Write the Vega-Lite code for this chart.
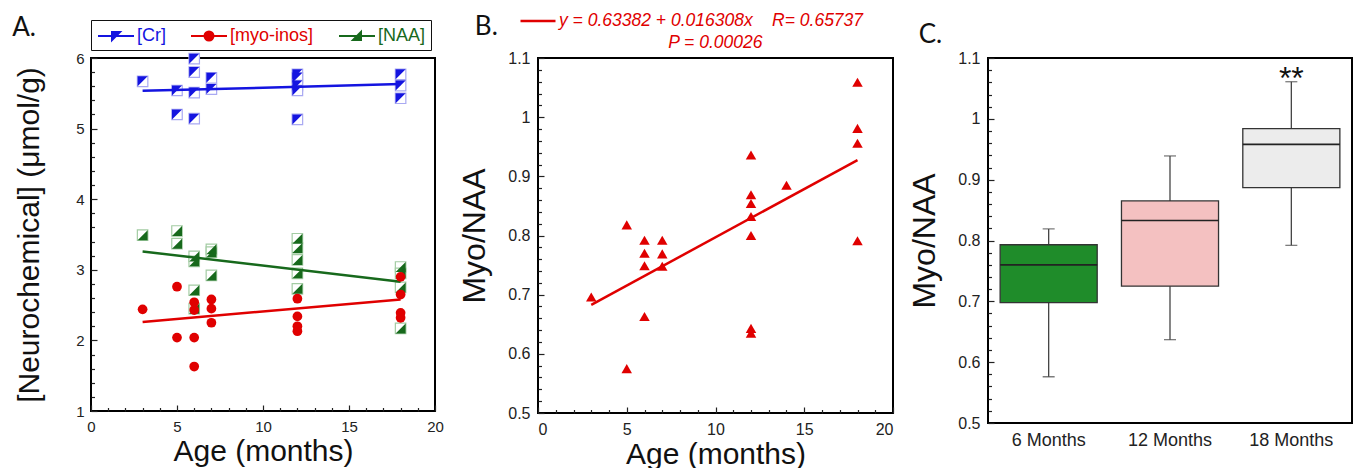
{
  "$schema": "https://vega.github.io/schema/vega-lite/v6.json",
  "background": "white",
  "padding": {"left": 11, "top": 1, "right": 5, "bottom": 0},
  "config": {
    "font": "Liberation Sans",
    "view": {"stroke": "#000", "strokeWidth": 2},
    "axis": {"domain": false, "grid": false, "labelFont": "Liberation Sans", "labelColor": "#222", "titleFont": "Liberation Sans", "titleFontWeight": "normal", "titleColor": "#111", "tickColor": "#222", "tickWidth": 1.2, "labelFlush": false, "labelOverlap": false},
    "title": {"font": "Lato", "fontSize": 26, "fontWeight": "normal", "orient": "left", "anchor": "end", "angle": 0, "align": "left", "baseline": "top", "frame": "group", "color": "#111", "offset": 0}
  },
  "datasets": {
    "ptsA": [
      {"series": "Cr", "age": 3, "value": 5.67}, {"series": "Cr", "age": 5, "value": 5.54}, {"series": "Cr", "age": 5, "value": 5.2},
      {"series": "Cr", "age": 6, "value": 5.99}, {"series": "Cr", "age": 6, "value": 5.8}, {"series": "Cr", "age": 6, "value": 5.51}, {"series": "Cr", "age": 6, "value": 5.14},
      {"series": "Cr", "age": 7, "value": 5.72}, {"series": "Cr", "age": 7, "value": 5.56},
      {"series": "Cr", "age": 12, "value": 5.77}, {"series": "Cr", "age": 12, "value": 5.72}, {"series": "Cr", "age": 12, "value": 5.61}, {"series": "Cr", "age": 12, "value": 5.54}, {"series": "Cr", "age": 12, "value": 5.13},
      {"series": "Cr", "age": 18, "value": 5.77}, {"series": "Cr", "age": 18, "value": 5.61}, {"series": "Cr", "age": 18, "value": 5.43},
      {"series": "NAA", "age": 3, "value": 3.49}, {"series": "NAA", "age": 5, "value": 3.55}, {"series": "NAA", "age": 5, "value": 3.37},
      {"series": "NAA", "age": 6, "value": 3.19}, {"series": "NAA", "age": 6, "value": 3.12}, {"series": "NAA", "age": 6, "value": 2.71}, {"series": "NAA", "age": 6, "value": 2.45},
      {"series": "NAA", "age": 7, "value": 3.29}, {"series": "NAA", "age": 7, "value": 3.25}, {"series": "NAA", "age": 7, "value": 2.92},
      {"series": "NAA", "age": 12, "value": 3.44}, {"series": "NAA", "age": 12, "value": 3.31}, {"series": "NAA", "age": 12, "value": 3.14}, {"series": "NAA", "age": 12, "value": 2.95}, {"series": "NAA", "age": 12, "value": 2.73},
      {"series": "NAA", "age": 18, "value": 3.04}, {"series": "NAA", "age": 18, "value": 2.95}, {"series": "NAA", "age": 18, "value": 2.75}, {"series": "NAA", "age": 18, "value": 2.17},
      {"series": "myo-inos", "age": 3, "value": 2.44}, {"series": "myo-inos", "age": 5, "value": 2.76}, {"series": "myo-inos", "age": 5, "value": 2.04},
      {"series": "myo-inos", "age": 6, "value": 2.54}, {"series": "myo-inos", "age": 6, "value": 2.43}, {"series": "myo-inos", "age": 6, "value": 2.04}, {"series": "myo-inos", "age": 6, "value": 1.63},
      {"series": "myo-inos", "age": 7, "value": 2.58}, {"series": "myo-inos", "age": 7, "value": 2.45}, {"series": "myo-inos", "age": 7, "value": 2.25},
      {"series": "myo-inos", "age": 12, "value": 2.59}, {"series": "myo-inos", "age": 12, "value": 2.34}, {"series": "myo-inos", "age": 12, "value": 2.2}, {"series": "myo-inos", "age": 12, "value": 2.13},
      {"series": "myo-inos", "age": 18, "value": 2.9}, {"series": "myo-inos", "age": 18, "value": 2.65}, {"series": "myo-inos", "age": 18, "value": 2.39}, {"series": "myo-inos", "age": 18, "value": 2.32}
    ],
    "fitsA": [
      {"series": "Cr", "age": 3, "value": 5.535}, {"series": "Cr", "age": 18, "value": 5.63},
      {"series": "myo-inos", "age": 3, "value": 2.26}, {"series": "myo-inos", "age": 18, "value": 2.58},
      {"series": "NAA", "age": 3, "value": 3.26}, {"series": "NAA", "age": 18, "value": 2.83}
    ],
    "ptsB": [
      {"age": 3, "value": 0.696}, {"age": 5, "value": 0.818}, {"age": 5, "value": 0.575},
      {"age": 6, "value": 0.792}, {"age": 6, "value": 0.77}, {"age": 6, "value": 0.749}, {"age": 6, "value": 0.663},
      {"age": 7, "value": 0.792}, {"age": 7, "value": 0.769}, {"age": 7, "value": 0.748},
      {"age": 12, "value": 0.936}, {"age": 12, "value": 0.869}, {"age": 12, "value": 0.854}, {"age": 12, "value": 0.832}, {"age": 12, "value": 0.8}, {"age": 12, "value": 0.643}, {"age": 12, "value": 0.635},
      {"age": 14, "value": 0.885},
      {"age": 18, "value": 1.059}, {"age": 18, "value": 0.981}, {"age": 18, "value": 0.956}, {"age": 18, "value": 0.791}
    ],
    "fitB": [{"age": 3, "value": 0.6828}, {"age": 18, "value": 0.9274}],
    "boxC": [
      {"group": "6 Months", "lo": 0.576, "q1": 0.698, "med": 0.76, "q3": 0.793, "hi": 0.819, "sig": ""},
      {"group": "12 Months", "lo": 0.637, "q1": 0.725, "med": 0.833, "q3": 0.865, "hi": 0.939, "sig": ""},
      {"group": "18 Months", "lo": 0.792, "q1": 0.887, "med": 0.958, "q3": 0.984, "hi": 1.061, "sig": "**"}
    ]
  },
  "resolve": {"scale": {"color": "independent", "stroke": "independent", "fill": "independent"}, "legend": {"color": "independent"}},
  "spacing": 12,
  "hconcat": [
    {
      "width": 344, "height": 353,
      "title": {"text": "A.", "dy": -43, "dx": 49},
      "encoding": {
        "x": {"field": "age", "type": "quantitative", "scale": {"domain": [0, 20]},
          "axis": {"title": "Age (months)", "titleFontSize": 30, "titlePadding": 0, "labelFontSize": 15, "labelPadding": 14,
            "values": [0,1,2,3,4,5,6,7,8,9,10,11,12,13,14,15,16,17,18,19,20],
            "labelExpr": "datum.value % 5 === 0 ? datum.label : ''",
            "tickSize": {"condition": {"test": "datum.value % 5 === 0", "value": -6}, "value": -3.5}}},
        "y": {"field": "value", "type": "quantitative", "scale": {"domain": [1, 6]},
          "axis": {"title": "[Neurochemical] (μmol/g)", "titleFontSize": 30, "titlePadding": 31, "labelFontSize": 15, "labelPadding": 13,
            "values": [1,1.2,1.4,1.6,1.8,2,2.2,2.4,2.6,2.8,3,3.2,3.4,3.6,3.8,4,4.2,4.4,4.6,4.8,5,5.2,5.4,5.6,5.8,6],
            "labelExpr": "round(datum.value*5) % 5 === 0 ? format(datum.value, '~g') : ''",
            "tickSize": {"condition": {"test": "round(datum.value*5) % 5 === 0", "value": -6}, "value": -3.5}}}
      },
      "layer": [
        {
          "data": {"name": "ptsA"},
          "transform": [{"filter": "datum.series !== 'myo-inos'"}],
          "mark": {"type": "point", "shape": "square", "filled": true, "fill": "white", "size": 110, "strokeWidth": 1.2, "opacity": 1},
          "encoding": {"stroke": {"field": "series", "type": "nominal", "scale": {"domain": ["Cr", "NAA"], "range": ["#a9a9f2", "#a3cca3"]}, "legend": null}}
        },
        {
          "data": {"name": "fitsA"},
          "mark": {"type": "line", "strokeWidth": 2.5},
          "encoding": {
            "color": {"field": "series", "type": "nominal", "scale": {"domain": ["Cr", "myo-inos", "NAA"], "range": ["#1414e0", "#e00000", "#17691c"]},
              "legend": {"title": null, "orient": "top", "direction": "horizontal", "offset": 8, "padding": 5, "strokeColor": "#111",
                "labelFontSize": 18, "labelFont": "Liberation Sans", "symbolSize": 400, "symbolStrokeWidth": 2, "labelOffset": 19, "columnPadding": 21, "labelLimit": 300,
                "labelExpr": "'[' + datum.label + ']'",
                "encode": {
                  "symbols": {"update": {
                    "shape": {"signal": "datum.value === 'Cr' ? 'M-0.9,0H2.7M0.5,-0.4H1.3L0.5,0.4Z' : datum.value === 'NAA' ? 'M-0.9,0H2.7M1.3,-0.4V0.4H0.5Z' : 'M-0.9,0H2.7M1.35,0A0.45,0.45,0,1,1,0.45,0A0.45,0.45,0,1,1,1.35,0Z'"},
                    "fill": {"signal": "datum.value === 'Cr' ? '#1414e0' : datum.value === 'NAA' ? '#17691c' : '#e00000'"},
                    "stroke": {"signal": "datum.value === 'Cr' ? '#1414e0' : datum.value === 'NAA' ? '#17691c' : '#e00000'"},
                    "strokeWidth": {"value": 2}, "opacity": {"value": 1}}},
                  "labels": {"update": {"fill": {"signal": "datum.value === 'Cr' ? '#1414e0' : datum.value === 'NAA' ? '#17691c' : '#e00000'"}}}
                }}}
          }
        },
        {
          "data": {"name": "ptsA"},
          "transform": [{"filter": "datum.series === 'Cr'"}],
          "mark": {"type": "point", "filled": true, "size": 100, "opacity": 1, "shape": "M-1,-1H1L-1,1Z"},
          "encoding": {"color": {"field": "series", "type": "nominal", "scale": {"domain": ["Cr", "myo-inos", "NAA"], "range": ["#1414e0", "#e00000", "#17691c"]}}}
        },
        {
          "data": {"name": "ptsA"},
          "transform": [{"filter": "datum.series === 'NAA'"}],
          "mark": {"type": "point", "filled": true, "size": 100, "opacity": 1, "shape": "M1,-1V1H-1Z"},
          "encoding": {"color": {"field": "series", "type": "nominal", "scale": {"domain": ["Cr", "myo-inos", "NAA"], "range": ["#1414e0", "#e00000", "#17691c"]}}}
        },
        {
          "data": {"name": "ptsA"},
          "transform": [{"filter": "datum.series === 'myo-inos'"}],
          "mark": {"type": "point", "filled": true, "size": 95, "opacity": 1, "shape": "circle"},
          "encoding": {"color": {"field": "series", "type": "nominal", "scale": {"domain": ["Cr", "myo-inos", "NAA"], "range": ["#1414e0", "#e00000", "#17691c"]}}}
        }
      ]
    },
    {
      "width": 355, "height": 355,
      "title": {"text": "B.", "dy": -44, "dx": 66},
      "encoding": {
        "x": {"field": "age", "type": "quantitative", "scale": {"domain": [0, 20]},
          "axis": {"title": "Age (months)", "titleFontSize": 30, "titlePadding": 0, "labelFontSize": 16, "labelPadding": 14, "labelFlush": true,
            "values": [0,1,2,3,4,5,6,7,8,9,10,11,12,13,14,15,16,17,18,19,20],
            "labelExpr": "datum.value % 5 === 0 ? datum.label : ''",
            "tickSize": {"condition": {"test": "datum.value % 5 === 0", "value": -6}, "value": -3.5}}},
        "y": {"field": "value", "type": "quantitative", "scale": {"domain": [0.5, 1.1]},
          "axis": {"title": "Myo/NAA", "titleFontSize": 32, "titlePadding": 16, "labelFontSize": 16, "labelPadding": 14,
            "values": [0.5,0.52,0.54,0.56,0.58,0.6,0.62,0.64,0.66,0.68,0.7,0.72,0.74,0.76,0.78,0.8,0.82,0.84,0.86,0.88,0.9,0.92,0.94,0.96,0.98,1,1.02,1.04,1.06,1.08,1.1],
            "labelExpr": "round(datum.value*50) % 5 === 0 ? format(datum.value, '~g') : ''",
            "tickSize": {"condition": {"test": "round(datum.value*50) % 5 === 0", "value": -6}, "value": -3.5}}}
      },
      "layer": [
        {
          "data": {"name": "ptsB"},
          "mark": {"type": "point", "shape": "triangle-up", "filled": true, "size": 110, "color": "#e00000", "opacity": 1}
        },
        {
          "data": {"name": "fitB"},
          "mark": {"type": "line", "strokeWidth": 2.5},
          "encoding": {
            "color": {"datum": "y = 0.63382 + 0.016308x\u00a0\u00a0\u00a0\u00a0R= 0.65737", "type": "nominal", "scale": {"range": ["#e00000"]},
              "legend": {"title": "\u200b\u00a0\u00a0\u00a0\u00a0\u00a0\u00a0\u00a0\u00a0\u00a0\u00a0P = 0.00026", "titleOrient": "bottom", "titleAnchor": "middle", "orient": "none", "legendX": -19, "legendY": -56, "padding": 0, "direction": "horizontal",
                "symbolType": "stroke", "symbolSize": 1225, "symbolStrokeWidth": 2.5, "labelOffset": 2, "labelLimit": 600, "titlePadding": 4, "titleLimit": 600,
                "labelFontSize": 17.5, "labelFontStyle": "italic", "labelColor": "#e00000",
                "titleFontSize": 17.5, "titleFontStyle": "italic", "titleColor": "#e00000", "titleFontWeight": "normal", "titleFont": "Liberation Sans", "labelFont": "Liberation Sans"}}
          }
        }
      ]
    },
    {
      "width": 364, "height": 365,
      "title": {"text": "C.", "dy": -36, "dx": 61},
      "data": {"name": "boxC"},
      "encoding": {
        "x": {"field": "group", "type": "nominal", "sort": ["6 Months", "12 Months", "18 Months"], "scale": {"paddingInner": 0.2, "paddingOuter": 0.1},
          "axis": {"title": null, "ticks": false, "labelAngle": 0, "labelFontSize": 18, "labelPadding": 8}}
      },
      "layer": [
        {
          "mark": {"type": "rule", "color": "#444", "strokeWidth": 1.3},
          "encoding": {
            "y": {"field": "lo", "type": "quantitative", "scale": {"domain": [0.5, 1.1]},
              "axis": {"title": "Myo/NAA", "titleFontSize": 32, "titlePadding": 16, "labelFontSize": 16, "labelPadding": 14,
                "values": [0.5,0.52,0.54,0.56,0.58,0.6,0.62,0.64,0.66,0.68,0.7,0.72,0.74,0.76,0.78,0.8,0.82,0.84,0.86,0.88,0.9,0.92,0.94,0.96,0.98,1,1.02,1.04,1.06,1.08,1.1],
                "labelExpr": "round(datum.value*50) % 5 === 0 ? format(datum.value, '~g') : ''",
                "tickSize": {"condition": {"test": "round(datum.value*50) % 5 === 0", "value": -6}, "value": -3.5}}},
            "y2": {"field": "hi"}
          }
        },
        {
          "mark": {"type": "tick", "color": "#444", "size": 12, "thickness": 1.3, "orient": "horizontal"},
          "encoding": {"y": {"field": "lo", "type": "quantitative", "scale": {"domain": [0.5, 1.1]},
              "axis": {"title": "Myo/NAA", "titleFontSize": 32, "titlePadding": 16, "labelFontSize": 16, "labelPadding": 14,
                "values": [0.5,0.52,0.54,0.56,0.58,0.6,0.62,0.64,0.66,0.68,0.7,0.72,0.74,0.76,0.78,0.8,0.82,0.84,0.86,0.88,0.9,0.92,0.94,0.96,0.98,1,1.02,1.04,1.06,1.08,1.1],
                "labelExpr": "round(datum.value*50) % 5 === 0 ? format(datum.value, '~g') : ''",
                "tickSize": {"condition": {"test": "round(datum.value*50) % 5 === 0", "value": -6}, "value": -3.5}}}}
        },
        {
          "mark": {"type": "tick", "color": "#444", "size": 12, "thickness": 1.3, "orient": "horizontal"},
          "encoding": {"y": {"field": "hi", "type": "quantitative", "scale": {"domain": [0.5, 1.1]},
              "axis": {"title": "Myo/NAA", "titleFontSize": 32, "titlePadding": 16, "labelFontSize": 16, "labelPadding": 14,
                "values": [0.5,0.52,0.54,0.56,0.58,0.6,0.62,0.64,0.66,0.68,0.7,0.72,0.74,0.76,0.78,0.8,0.82,0.84,0.86,0.88,0.9,0.92,0.94,0.96,0.98,1,1.02,1.04,1.06,1.08,1.1],
                "labelExpr": "round(datum.value*50) % 5 === 0 ? format(datum.value, '~g') : ''",
                "tickSize": {"condition": {"test": "round(datum.value*50) % 5 === 0", "value": -6}, "value": -3.5}}}}
        },
        {
          "mark": {"type": "bar", "stroke": "#333", "strokeWidth": 1.3},
          "encoding": {
            "y": {"field": "q1", "type": "quantitative", "scale": {"domain": [0.5, 1.1]},
              "axis": {"title": "Myo/NAA", "titleFontSize": 32, "titlePadding": 16, "labelFontSize": 16, "labelPadding": 14,
                "values": [0.5,0.52,0.54,0.56,0.58,0.6,0.62,0.64,0.66,0.68,0.7,0.72,0.74,0.76,0.78,0.8,0.82,0.84,0.86,0.88,0.9,0.92,0.94,0.96,0.98,1,1.02,1.04,1.06,1.08,1.1],
                "labelExpr": "round(datum.value*50) % 5 === 0 ? format(datum.value, '~g') : ''",
                "tickSize": {"condition": {"test": "round(datum.value*50) % 5 === 0", "value": -6}, "value": -3.5}}},
            "y2": {"field": "q3"},
            "fill": {"field": "group", "type": "nominal", "scale": {"domain": ["6 Months", "12 Months", "18 Months"], "range": ["#1f8c2a", "#f4c1c1", "#ececec"]}, "legend": null}
          }
        },
        {
          "mark": {"type": "bar", "stroke": "#222", "strokeWidth": 1.6, "fill": null},
          "encoding": {"y": {"field": "med", "type": "quantitative", "scale": {"domain": [0.5, 1.1]},
              "axis": {"title": "Myo/NAA", "titleFontSize": 32, "titlePadding": 16, "labelFontSize": 16, "labelPadding": 14,
                "values": [0.5,0.52,0.54,0.56,0.58,0.6,0.62,0.64,0.66,0.68,0.7,0.72,0.74,0.76,0.78,0.8,0.82,0.84,0.86,0.88,0.9,0.92,0.94,0.96,0.98,1,1.02,1.04,1.06,1.08,1.1],
                "labelExpr": "round(datum.value*50) % 5 === 0 ? format(datum.value, '~g') : ''",
                "tickSize": {"condition": {"test": "round(datum.value*50) % 5 === 0", "value": -6}, "value": -3.5}}}, "y2": {"field": "med"}}
        },
        {
          "mark": {"type": "text", "fontSize": 32, "font": "Liberation Sans", "color": "#111", "baseline": "alphabetic", "dy": 7},
          "encoding": {"y": {"field": "hi", "type": "quantitative", "scale": {"domain": [0.5, 1.1]},
              "axis": {"title": "Myo/NAA", "titleFontSize": 32, "titlePadding": 16, "labelFontSize": 16, "labelPadding": 14,
                "values": [0.5,0.52,0.54,0.56,0.58,0.6,0.62,0.64,0.66,0.68,0.7,0.72,0.74,0.76,0.78,0.8,0.82,0.84,0.86,0.88,0.9,0.92,0.94,0.96,0.98,1,1.02,1.04,1.06,1.08,1.1],
                "labelExpr": "round(datum.value*50) % 5 === 0 ? format(datum.value, '~g') : ''",
                "tickSize": {"condition": {"test": "round(datum.value*50) % 5 === 0", "value": -6}, "value": -3.5}}}, "text": {"field": "sig"}}
        }
      ]
    }
  ]
}
